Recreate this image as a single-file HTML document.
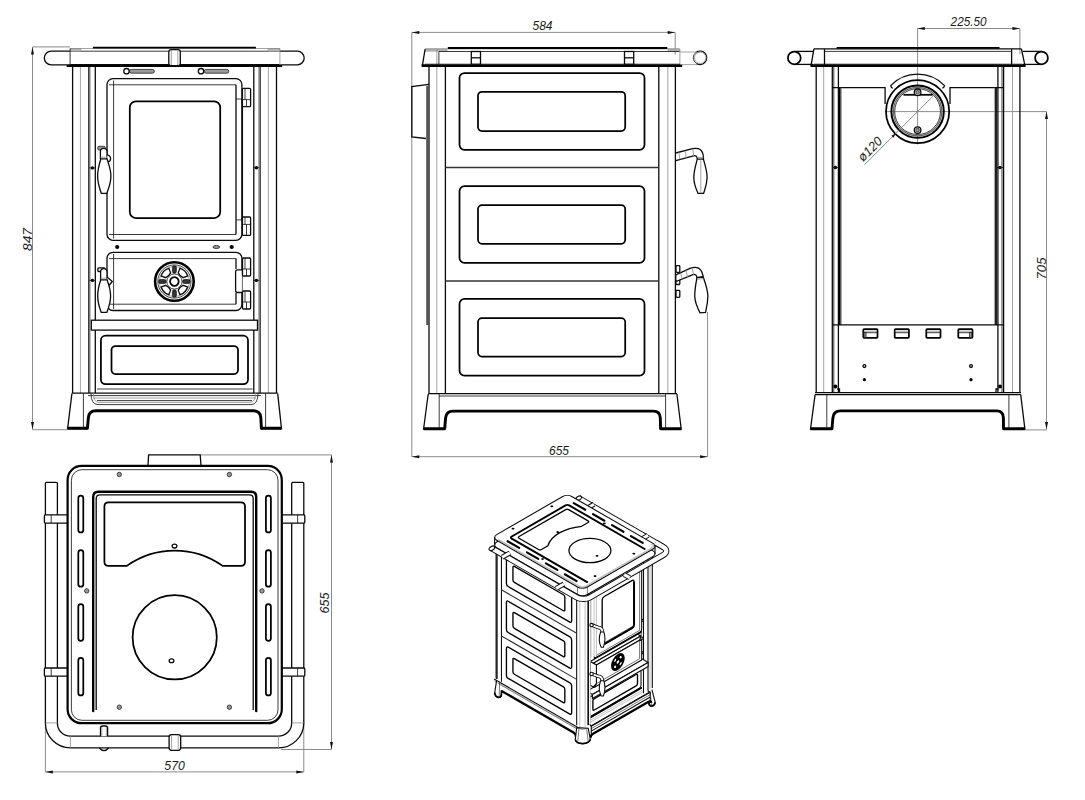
<!DOCTYPE html>
<html><head><meta charset="utf-8"><title>Stove drawing</title>
<style>
html,body{margin:0;padding:0;background:#fff}
body{width:1085px;height:800px;overflow:hidden}
svg{display:block}
text{font-family:"Liberation Sans",sans-serif;font-style:italic;fill:#1c1c1c}
.k{stroke:#0a0a0a;stroke-width:1.3;fill:none}
.kw{stroke:#0a0a0a;stroke-width:1.3;fill:#fff}
.t{stroke:#1a1a1a;stroke-width:0.85;fill:none}
.g{stroke:#8c8c8c;stroke-width:0.8;fill:none}
.gf{stroke:#9a9a9a;stroke-width:0.6;fill:#b5b5b5}
.gfk{stroke:#222;stroke-width:0.8;fill:#999}
.f{stroke:none;fill:#000}
.fd{stroke:#000;stroke-width:0.6;fill:#333}
.d{stroke:#6e6e6e;stroke-width:0.8;fill:none}
.ar{fill:#111;stroke:none}
.b15{stroke:#000;stroke-width:1.75;fill:none}
.b15w{stroke:#000;stroke-width:1.75;fill:#fff}
.b2{stroke:#000;stroke-width:2;fill:none}
.b22{stroke:#000;stroke-width:2.9;fill:none;stroke-linejoin:round}
.b22w{stroke:#000;stroke-width:2.2;fill:#fff}
.b25r{stroke:#000;stroke-width:2.4;fill:none;stroke-linecap:round}
.bw{stroke:#000;stroke-width:2.6;fill:#fff}
.dg3{stroke:#555;stroke-width:2.8;fill:none}
.dgl{stroke:#666;stroke-width:1.2;fill:none}
.dv{stroke:#333;stroke-width:1.5;fill:none}
#iso *{vector-effect:non-scaling-stroke}
#iso .k,#iso .kw{stroke-width:1.05}
#iso .t{stroke-width:.6}
#iso .g{stroke-width:.6;stroke:#999}
#iso .b15,#iso .b15w{stroke-width:1.35}
#iso .bw{stroke-width:1.6}
#iso .dv{stroke-width:1.1}
#iso .dg3{stroke-width:1.7;stroke:#222}
.ik{stroke:#0c0c0c;stroke-width:1.1;fill:none}
.ikw{stroke:#0c0c0c;stroke-width:1.1;fill:#fff;stroke-linejoin:round}
.iw{stroke:none;fill:#fff}
.it{stroke:#222;stroke-width:.6;fill:none}
.ig{stroke:#999;stroke-width:.6;fill:none}
.ik13{stroke:#000;stroke-width:1.25;fill:none}
.igf{stroke:#666;stroke-width:.6;fill:#aaa}
.wf{stroke:none;fill:#fff}
.ho{stroke:#0c0c0c;stroke-width:3.6;fill:none;stroke-linecap:butt}
.hi{stroke:#fff;stroke-width:1.9;fill:none;stroke-linecap:butt}
.ib2{stroke:#000;stroke-width:2.3;fill:none;stroke-linejoin:round}
.ihb{stroke:#8a8a8a;stroke-width:1.7;fill:none}
.ib{stroke:#000;stroke-width:1.7;fill:none;stroke-linejoin:round}
.ibr{stroke:#000;stroke-width:1.9;fill:none;stroke-linecap:round}
.isl{stroke:#000;stroke-width:2.1;fill:none;stroke-linecap:round}
.ro{stroke:#0c0c0c;stroke-width:6.2;fill:none}
.ri{stroke:#fff;stroke-width:4.3;fill:none}
.bo{stroke:#0c0c0c;stroke-width:5;fill:none}
.bi{stroke:#fff;stroke-width:3.1;fill:none}
.ko{stroke:#0c0c0c;stroke-width:6;fill:none;stroke-linecap:round}
.ki{stroke:#fff;stroke-width:4.2;fill:none;stroke-linecap:round}
</style></head>
<body><svg width="1085" height="800" viewBox="0 0 1085 800">
<rect width="1085" height="800" fill="#fff"/>
<g id="front">
<line x1="32.5" y1="47.0" x2="32.5" y2="429.5" class="d"/>
<polygon points="32.5,47.0 34.0,54.5 31.0,54.5" class="ar"/>
<polygon points="32.5,429.5 31.0,422.0 34.0,422.0" class="ar"/>
<line x1="32.5" y1="46.9" x2="70.0" y2="46.9" class="d"/>
<line x1="32.5" y1="429.7" x2="68.0" y2="429.7" class="d"/>
<text x="32.0" y="239.5" textLength="23" lengthAdjust="spacingAndGlyphs" font-size="13.5" text-anchor="middle" transform="rotate(-90 32.0 239.5)">847</text>
<path d="M70.1,51.2 L51.1,51.2 A6.8,6.8 0 0 0 51.1,64.8 L70.1,64.8" class="k"/>
<path d="M279.9,51.2 L297.4,51.2 A6.8,6.8 0 0 1 297.4,64.8 L279.9,64.8" class="k"/>
<line x1="70.1" y1="51.2" x2="279.9" y2="51.2" class="t"/>
<line x1="70.1" y1="64.6" x2="279.9" y2="64.6" class="k"/>
<rect x="70.3" y="48.5" width="10.7" height="2.7" rx="0" class="gf"/>
<rect x="268.0" y="48.5" width="11.7" height="2.7" rx="0" class="gf"/>
<line x1="70.1" y1="48.5" x2="279.9" y2="48.5" class="g"/>
<line x1="92.9" y1="47.6" x2="255.9" y2="47.6" class="b15"/>
<line x1="70.1" y1="48.5" x2="70.1" y2="65.0" class="t"/>
<line x1="279.9" y1="48.5" x2="279.9" y2="65.0" class="g"/>
<line x1="66.7" y1="66.1" x2="282.2" y2="66.1" class="b2"/>
<rect x="168.8" y="49.6" width="11.5" height="16.1" rx="2.5" class="kw"/>
<line x1="171.3" y1="50.5" x2="171.3" y2="65.0" class="g"/>
<line x1="177.8" y1="50.5" x2="177.8" y2="65.0" class="g"/>
<line x1="72.6" y1="67.0" x2="72.6" y2="393.0" class="k"/>
<line x1="80.4" y1="67.0" x2="80.4" y2="393.0" class="g"/>
<line x1="88.5" y1="67.0" x2="88.5" y2="393.0" class="t"/>
<line x1="89.8" y1="67.0" x2="89.8" y2="393.0" class="t"/>
<line x1="95.3" y1="67.0" x2="95.3" y2="393.0" class="k"/>
<line x1="253.8" y1="67.0" x2="253.8" y2="393.0" class="k"/>
<line x1="259.1" y1="67.0" x2="259.1" y2="393.0" class="t"/>
<line x1="260.4" y1="67.0" x2="260.4" y2="393.0" class="t"/>
<line x1="268.4" y1="67.0" x2="268.4" y2="393.0" class="g"/>
<line x1="276.5" y1="67.0" x2="276.5" y2="393.0" class="k"/>
<rect x="129.5" y="69.4" width="24.8" height="3.8" rx="1.9" class="gfk"/>
<circle cx="126.5" cy="71.2" r="2.7" class="kw"/>
<rect x="204.0" y="69.4" width="24.8" height="3.8" rx="1.9" class="gfk"/>
<circle cx="201.0" cy="71.2" r="2.7" class="kw"/>
<rect x="107.0" y="78.6" width="134.9" height="161.7" rx="6" class="k"/>
<line x1="109.0" y1="84.8" x2="236.0" y2="84.8" class="t"/>
<line x1="113.6" y1="80.5" x2="113.6" y2="238.5" class="t"/>
<line x1="109.0" y1="234.5" x2="236.0" y2="234.5" class="t"/>
<line x1="236.0" y1="84.8" x2="236.0" y2="234.5" class="k"/>
<line x1="242.4" y1="99.0" x2="242.4" y2="219.9" class="k"/>
<line x1="236.0" y1="99.0" x2="242.4" y2="99.0" class="t"/>
<line x1="236.0" y1="219.9" x2="242.4" y2="219.9" class="t"/>
<rect x="242.4" y="88.3" width="8.2" height="18.4" rx="1" class="kw"/>
<rect x="242.4" y="217.0" width="8.2" height="18.4" rx="1" class="kw"/>
<line x1="242.4" y1="99.6" x2="250.6" y2="99.6" class="t"/>
<line x1="246.5" y1="99.6" x2="246.5" y2="106.7" class="t"/>
<line x1="245.0" y1="88.3" x2="245.0" y2="99.6" class="t"/>
<line x1="242.4" y1="224.4" x2="250.6" y2="224.4" class="t"/>
<line x1="246.5" y1="224.4" x2="246.5" y2="235.4" class="t"/>
<line x1="245.0" y1="217.0" x2="245.0" y2="224.4" class="t"/>
<rect x="129.8" y="101.3" width="90.4" height="116.7" rx="6" class="b15"/>
<g transform="translate(0 0.0)">
<rect x="97.8" y="146.3" width="7.4" height="3.7" rx="1" class="gfk"/>
<path d="M100.4,159 L100.4,151.5 Q100.4,148.4 103.7,148.4 Q107,148.4 107,151.5 L107,159" class="kw"/>
<path d="M107,154.8 Q110.6,155.5 110.6,158.5 Q110.6,161.5 107.6,162" class="kw"/>
<path d="M100.9,158.8 C99,165 97.6,170 97.6,176 C97.6,183 99.6,188 101.2,193.3 L106.8,193.3 C108.9,188 110.9,183 110.9,176 C110.9,170 109,165 107,158.8 Z" class="kw"/>
<line x1="100.6" y1="157.2" x2="107.0" y2="157.2" class="g"/>
</g>
<circle cx="92.4" cy="167.9" r="1.7" class="f"/>
<line x1="89.4" y1="167.9" x2="95.4" y2="167.9" class="t"/>
<circle cx="256.4" cy="167.7" r="1.7" class="f"/>
<line x1="253.4" y1="167.7" x2="259.4" y2="167.7" class="t"/>
<circle cx="92.4" cy="280.4" r="1.7" class="f"/>
<line x1="89.4" y1="280.4" x2="95.4" y2="280.4" class="t"/>
<circle cx="256.4" cy="280.4" r="1.7" class="f"/>
<line x1="253.4" y1="280.4" x2="259.4" y2="280.4" class="t"/>
<circle cx="117.2" cy="247.0" r="2.1" class="f"/>
<circle cx="231.7" cy="247.0" r="2.1" class="f"/>
<ellipse cx="216.3" cy="247.0" rx="3.4" ry="1.5" class="gfk"/>
<rect x="107.0" y="252.3" width="134.9" height="58.2" rx="6" class="k"/>
<line x1="109.0" y1="258.6" x2="236.0" y2="258.6" class="t"/>
<line x1="113.6" y1="254.0" x2="113.6" y2="309.0" class="t"/>
<line x1="109.0" y1="304.2" x2="236.0" y2="304.2" class="t"/>
<path d="M241.9,269.8 L237.6,269.8 Q235.6,269.8 235.6,271.8 L235.6,290.5 Q235.6,292.5 237.6,292.5 L241.9,292.5" class="kw"/>
<line x1="236.0" y1="258.6" x2="236.0" y2="269.0" class="k"/>
<line x1="236.0" y1="293.0" x2="236.0" y2="304.2" class="k"/>
<rect x="242.5" y="258.0" width="8.1" height="18.0" rx="1" class="kw"/>
<line x1="242.5" y1="269.0" x2="250.6" y2="269.0" class="t"/>
<line x1="246.5" y1="269.0" x2="246.5" y2="276.0" class="t"/>
<line x1="245.0" y1="258.0" x2="245.0" y2="269.0" class="t"/>
<rect x="242.5" y="291.0" width="8.1" height="18.0" rx="1" class="kw"/>
<line x1="242.5" y1="302.0" x2="250.6" y2="302.0" class="t"/>
<line x1="246.5" y1="302.0" x2="246.5" y2="309.0" class="t"/>
<line x1="245.0" y1="291.0" x2="245.0" y2="302.0" class="t"/>
<g transform="translate(0 0.0)">
<rect x="97.8" y="267.9" width="7.2" height="3.6" rx="1" class="kw"/>
<path d="M100.6,280 L100.6,272 Q100.6,268.6 103.8,268.6 Q107,268.6 107,272 L107,280" class="kw"/>
<path d="M107,277 L112.3,281.5 L108.5,286" class="kw"/>
<path d="M100.8,279.8 C99,285 97.7,290 97.7,296 C97.7,303 99.6,308 101.2,312.4 L106.8,312.4 C108.5,308 110.6,303 110.6,296 C110.6,290 109,285 107,279.8 Z" class="kw"/>
<line x1="100.6" y1="278.2" x2="107.0" y2="278.2" class="g"/>
</g>
<g transform="translate(174.4 281.5) scale(1.0)">
<circle cx="0.0" cy="0.0" r="19.3" class="bw"/>
<circle cx="0.0" cy="0.0" r="16.6" class="t"/>
<circle cx="0.0" cy="0.0" r="15.2" class="g"/>
<rect x="-2" y="-15.8" width="4" height="7.6" rx="1.8" class="fd" transform="rotate(0)"/>
<rect x="-2" y="-15.8" width="4" height="7.6" rx="1.8" class="fd" transform="rotate(90)"/>
<rect x="-2" y="-15.8" width="4" height="7.6" rx="1.8" class="fd" transform="rotate(180)"/>
<rect x="-2" y="-15.8" width="4" height="7.6" rx="1.8" class="fd" transform="rotate(270)"/>
<path d="M-3.4,-8.8 Q0,-7.6 3.4,-8.8 L5.4,-13.2 Q0,-16.2 -5.4,-13.2 Z" class="kw" transform="rotate(45)"/>
<path d="M-3.4,-8.8 Q0,-7.6 3.4,-8.8 L5.4,-13.2 Q0,-16.2 -5.4,-13.2 Z" class="kw" transform="rotate(135)"/>
<path d="M-3.4,-8.8 Q0,-7.6 3.4,-8.8 L5.4,-13.2 Q0,-16.2 -5.4,-13.2 Z" class="kw" transform="rotate(225)"/>
<path d="M-3.4,-8.8 Q0,-7.6 3.4,-8.8 L5.4,-13.2 Q0,-16.2 -5.4,-13.2 Z" class="kw" transform="rotate(315)"/>
<circle cx="0.0" cy="0.0" r="7.6" class="t"/>
<circle cx="0.0" cy="0.0" r="4.3" class="b15w"/>
</g>
<rect x="91.3" y="320.2" width="166.2" height="9.9" rx="0" class="kw"/>
<rect x="100.9" y="335.7" width="147.1" height="48.5" rx="4.7" class="b15"/>
<rect x="111.5" y="346.0" width="126.5" height="28.0" rx="4" class="b15"/>
<line x1="97.0" y1="389.0" x2="252.5" y2="389.0" class="t"/>
<line x1="71.8" y1="393.2" x2="277.8" y2="393.2" class="k"/>
<line x1="88.0" y1="395.6" x2="261.0" y2="395.6" class="t"/>
<path d="M91,393.2 Q91,404.6 98,404.6 L251,404.6 Q258,404.6 258,393.2" class="t"/>
<path d="M93.5,393.2 Q93.5,402.4 99,402.4 L250,402.4 Q255.5,402.4 255.5,393.2" class="g"/>
<line x1="97.0" y1="400.6" x2="252.0" y2="400.6" class="t"/>
<line x1="93.0" y1="398.0" x2="256.0" y2="398.0" class="g"/>
<path d="M71.9,393.6 L67.6,428.6 L87.4,428.6 L88.4,417.5 Q89,410.9 96,410.9 L253.2,410.9 Q260.2,410.9 260.8,417.5 L261.4,428.6 L281.5,428.6 L277.7,393.6" class="k"/>
<path d="M67.6,428.3 L87.4,428.3 L88.4,417.5 Q89,410.7 96,410.7 L253.2,410.7 Q260.2,410.7 260.8,417.5 L261.4,428.3 L281.5,428.3" class="b22"/>
<line x1="83.4" y1="393.6" x2="83.4" y2="427.5" class="t"/>
<line x1="265.6" y1="393.6" x2="265.6" y2="427.5" class="t"/>
</g>
<g id="side">
<line x1="411.8" y1="32.4" x2="675.2" y2="32.4" class="d"/>
<polygon points="411.8,32.4 419.3,30.9 419.3,33.9" class="ar"/>
<polygon points="675.2,32.4 667.7,33.9 667.7,30.9" class="ar"/>
<line x1="411.8" y1="32.4" x2="411.8" y2="456.7" class="d"/>
<line x1="675.2" y1="32.4" x2="675.2" y2="54.7" class="d"/>
<text x="542.5" y="30.3" textLength="20" lengthAdjust="spacingAndGlyphs" font-size="13.5" text-anchor="middle">584</text>
<line x1="411.8" y1="456.7" x2="707.6" y2="456.7" class="d"/>
<polygon points="411.8,456.7 419.3,455.2 419.3,458.2" class="ar"/>
<polygon points="707.6,456.7 700.1,458.2 700.1,455.2" class="ar"/>
<line x1="707.6" y1="312.0" x2="707.6" y2="456.7" class="d"/>
<text x="559.0" y="454.6" textLength="20" lengthAdjust="spacingAndGlyphs" font-size="13.5" text-anchor="middle">655</text>
<rect x="425.3" y="48.9" width="21.7" height="2.3" rx="0" class="gf"/>
<rect x="668.0" y="48.9" width="11.5" height="2.3" rx="0" class="gf"/>
<line x1="425.1" y1="48.9" x2="679.6" y2="48.9" class="g"/>
<line x1="447.8" y1="48.0" x2="667.3" y2="48.0" class="b2"/>
<line x1="438.9" y1="51.5" x2="679.9" y2="51.5" class="t"/>
<line x1="425.1" y1="49.2" x2="422.4" y2="65.6" class="k"/>
<line x1="436.8" y1="49.2" x2="436.8" y2="64.5" class="g"/>
<line x1="438.9" y1="51.5" x2="438.9" y2="64.5" class="t"/>
<line x1="679.9" y1="49.2" x2="679.9" y2="65.0" class="g"/>
<line x1="421.6" y1="65.6" x2="682.2" y2="65.6" class="b22"/>
<line x1="425.0" y1="64.2" x2="680.0" y2="64.2" class="t"/>
<rect x="471.3" y="51.5" width="9.2" height="12.7" rx="0" class="kw"/>
<line x1="471.3" y1="57.8" x2="480.5" y2="57.8" class="k"/>
<rect x="624.5" y="51.5" width="9.2" height="12.7" rx="0" class="kw"/>
<line x1="624.5" y1="57.8" x2="633.7" y2="57.8" class="k"/>
<line x1="680.0" y1="52.0" x2="700.0" y2="52.0" class="g"/>
<line x1="680.0" y1="64.6" x2="700.0" y2="64.6" class="g"/>
<path d="M696.5,52.1 A6.7,6.7 0 1 1 696.5,63.5" class="k"/>
<circle cx="700.2" cy="57.8" r="5.7" class="g"/>
<path d="M696.5,52.1 A6.7,6.7 0 0 0 696.5,63.5" class="t"/>
<line x1="429.0" y1="67.0" x2="429.0" y2="393.3" class="k"/>
<line x1="436.8" y1="67.0" x2="436.8" y2="393.3" class="g"/>
<line x1="445.4" y1="67.0" x2="445.4" y2="393.3" class="k"/>
<line x1="658.8" y1="67.0" x2="658.8" y2="393.3" class="k"/>
<line x1="667.8" y1="67.0" x2="667.8" y2="393.3" class="g"/>
<line x1="675.4" y1="67.0" x2="675.4" y2="393.3" class="k"/>
<rect x="459.5" y="73.0" width="185.0" height="76.8" rx="5" class="b15"/>
<rect x="478.0" y="91.8" width="147.2" height="39.2" rx="4" class="b15"/>
<rect x="459.5" y="186.1" width="185.0" height="76.8" rx="5" class="b15"/>
<rect x="478.0" y="205.1" width="147.2" height="38.7" rx="4" class="b15"/>
<rect x="459.5" y="298.9" width="185.0" height="76.8" rx="5" class="b15"/>
<rect x="478.0" y="318.1" width="147.2" height="38.5" rx="4" class="b15"/>
<line x1="445.4" y1="167.5" x2="658.8" y2="167.5" class="dv"/>
<line x1="445.4" y1="280.9" x2="658.8" y2="280.9" class="dv"/>
<path d="M429,84.4 L411.8,86.5 L411.8,136.9 L425.9,138.5" class="k"/>
<line x1="427.6" y1="86.0" x2="427.6" y2="325.1" class="dg3"/>
<path d="M675.8,153 L692.5,148.7 Q702.8,146.5 703.4,157 L703.4,159.2 M675.8,160.6 L693.5,155.8 Q697.3,155 697.3,159.2" class="k"/>
<line x1="678.9" y1="152.3" x2="679.9" y2="159.6" class="g"/>
<line x1="685.2" y1="150.6" x2="686.2" y2="158.0" class="g"/>
<line x1="692.8" y1="148.7" x2="693.8" y2="156.0" class="g"/>
<path d="M697.3,159.2 L703.4,159.2 C706,168 707.3,172 707.1,178 C706.8,185 705,189 703.6,193.3 L698,193.3 C696,189 694,184 693.8,178 C693.8,171 695.5,166 697.3,159.2 Z" class="k"/>
<line x1="700.8" y1="159.5" x2="700.8" y2="193.0" class="g"/>
<line x1="697.3" y1="157.5" x2="703.4" y2="157.5" class="g"/>
<rect x="676.0" y="265.7" width="3.8" height="6.6" rx="0.8" class="k"/>
<rect x="676.0" y="290.3" width="3.8" height="7.1" rx="0.8" class="k"/>
<rect x="676.0" y="278.0" width="3.8" height="6.5" rx="0.8" class="k"/>
<path d="M675.8,274.8 L690,268.4 Q700.5,264.5 702.8,275 L703.2,277 L697,277.6 Q696.5,273.8 693,274.6 L675.8,281.5 Z" class="kw"/>
<line x1="680.6" y1="272.8" x2="682.2" y2="279.5" class="g"/>
<line x1="686.0" y1="270.2" x2="687.6" y2="277.3" class="g"/>
<line x1="692.0" y1="267.6" x2="693.6" y2="274.8" class="g"/>
<path d="M697,277.6 L703.2,277 C706,285 707.8,290 707.9,296 C707.8,303 706.5,308 705.5,312.5 L700,312.8 C697.5,308 695.2,303 694.8,297 C694.5,290 695.6,285 697,277.6 Z" class="kw"/>
<line x1="697.0" y1="279.2" x2="703.6" y2="278.6" class="g"/>
<line x1="428.2" y1="393.6" x2="677.0" y2="393.6" class="k"/>
<line x1="439.0" y1="396.0" x2="666.0" y2="396.0" class="t"/>
<path d="M428.2,394 L423.6,429 L444.7,429 L445.6,418 Q446.2,411.3 453,411.3 L653.4,411.3 Q660,411.3 660.3,418 L660.6,429 L681.2,429 L676.9,394" class="k"/>
<path d="M423.6,428.7 L444.7,428.7 L445.6,418 Q446.2,411.1 453,411.1 L653.4,411.1 Q660,411.1 660.3,418 L660.6,428.7 L681.2,428.7" class="b22"/>
<line x1="439.2" y1="394.0" x2="439.2" y2="428.0" class="t"/>
<line x1="665.6" y1="394.0" x2="665.6" y2="428.0" class="t"/>
</g>
<g id="rear">
<line x1="917.3" y1="28.5" x2="1019.9" y2="28.5" class="d"/>
<polygon points="917.3,28.5 924.8,27.0 924.8,30.0" class="ar"/>
<polygon points="1019.9,28.5 1012.4,30.0 1012.4,27.0" class="ar"/>
<line x1="1019.9" y1="28.5" x2="1019.9" y2="54.0" class="d"/>
<line x1="917.6" y1="28.5" x2="917.6" y2="144.5" class="d"/>
<text x="968.6" y="26.0" textLength="36" lengthAdjust="spacingAndGlyphs" font-size="13.5" text-anchor="middle">225.50</text>
<line x1="1046.5" y1="111.6" x2="1046.5" y2="429.4" class="d"/>
<polygon points="1046.5,111.6 1048.0,119.1 1045.0,119.1" class="ar"/>
<polygon points="1046.5,429.4 1045.0,421.9 1048.0,421.9" class="ar"/>
<line x1="885.0" y1="111.6" x2="1046.5" y2="111.6" class="d"/>
<line x1="1025.0" y1="429.9" x2="1046.5" y2="429.9" class="d"/>
<text x="1045.5" y="268.5" textLength="22" lengthAdjust="spacingAndGlyphs" font-size="13.5" text-anchor="middle" transform="rotate(-90 1045.5 268.5)">705</text>
<line x1="794.3" y1="51.4" x2="813.0" y2="51.4" class="k"/>
<line x1="794.3" y1="64.4" x2="813.0" y2="64.4" class="k"/>
<circle cx="794.3" cy="57.9" r="6.4" class="b15w"/>
<line x1="1041.5" y1="51.4" x2="1022.5" y2="51.4" class="k"/>
<line x1="1041.5" y1="64.4" x2="1022.5" y2="64.4" class="k"/>
<circle cx="1041.5" cy="57.9" r="6.4" class="b15w"/>
<path d="M813.9,48.9 L811,65.8" class="k"/>
<path d="M1021.4,48.9 L1025,65.8" class="k"/>
<line x1="813.9" y1="48.9" x2="1021.4" y2="48.9" class="k"/>
<line x1="836.6" y1="47.8" x2="999.5" y2="47.8" class="b15"/>
<line x1="824.5" y1="51.4" x2="1011.6" y2="51.4" class="t"/>
<line x1="824.5" y1="48.9" x2="824.5" y2="65.0" class="k"/>
<line x1="1011.6" y1="48.9" x2="1011.6" y2="65.0" class="k"/>
<line x1="810.5" y1="65.6" x2="1025.5" y2="65.6" class="b22"/>
<line x1="814.0" y1="64.2" x2="1022.0" y2="64.2" class="t"/>
<line x1="816.2" y1="67.0" x2="816.2" y2="393.0" class="k"/>
<line x1="823.7" y1="67.0" x2="823.7" y2="393.0" class="g"/>
<line x1="832.3" y1="67.0" x2="832.3" y2="393.0" class="k"/>
<line x1="833.8" y1="67.0" x2="833.8" y2="393.0" class="t"/>
<line x1="838.4" y1="67.0" x2="838.4" y2="393.0" class="k"/>
<line x1="997.9" y1="67.0" x2="997.9" y2="393.0" class="k"/>
<line x1="1002.0" y1="67.0" x2="1002.0" y2="393.0" class="t"/>
<line x1="1003.6" y1="67.0" x2="1003.6" y2="393.0" class="k"/>
<line x1="1012.5" y1="67.0" x2="1012.5" y2="393.0" class="g"/>
<line x1="1019.9" y1="67.0" x2="1019.9" y2="393.0" class="k"/>
<path d="M832.5,87.6 L885.1,87.6 L885.1,104" class="k"/>
<path d="M1003,87.6 L950,87.6 L950,104" class="k"/>
<line x1="839.8" y1="87.6" x2="839.8" y2="324.9" class="b15"/>
<line x1="841.4" y1="87.6" x2="841.4" y2="324.9" class="g"/>
<line x1="996.0" y1="87.6" x2="996.0" y2="324.9" class="b15"/>
<line x1="994.4" y1="87.6" x2="994.4" y2="324.9" class="g"/>
<line x1="832.5" y1="324.9" x2="1003.0" y2="324.9" class="k"/>
<circle cx="917.6" cy="111.6" r="31.6" class="b15"/>
<path d="M892.9,88.2 Q891.2,88.1 890.7,85.6 A37.4,37.4 0 0 1 944.5,85.6 Q944.0,88.1 942.3,88.2" class="k"/>
<circle cx="917.6" cy="111.6" r="26.2" class="b2"/>
<circle cx="917.6" cy="111.6" r="24.2" class="dgl"/>
<circle cx="917.6" cy="111.6" r="22.9" class="t"/>
<line x1="903.5" y1="94.8" x2="932.6" y2="94.8" class="b15"/>
<circle cx="917.6" cy="92.3" r="3.3" class="kw"/>
<circle cx="917.6" cy="92.3" r="1.8" class="gfk"/>
<circle cx="917.6" cy="130.1" r="3.3" class="kw"/>
<circle cx="917.6" cy="130.1" r="1.8" class="gfk"/>
<line x1="933.9" y1="95.3" x2="864.4" y2="164.8" class="d"/>
<polygon points="895.6,133.6 893.5,137.8 891.4,135.7" class="ar"/>
<text x="873.2" y="152.2" textLength="28.5" lengthAdjust="spacingAndGlyphs" font-size="13" text-anchor="middle" transform="rotate(-45 873.2 152.2)">&#248;120</text>
<circle cx="835.4" cy="167.5" r="1.8" class="f"/>
<line x1="832.4" y1="167.5" x2="838.4" y2="167.5" class="t"/>
<circle cx="1000.0" cy="167.5" r="1.8" class="f"/>
<line x1="997.0" y1="167.5" x2="1003.0" y2="167.5" class="t"/>
<circle cx="835.4" cy="386.5" r="2" class="f"/>
<circle cx="1000.0" cy="386.5" r="2" class="f"/>
<path d="M837,389 L839.5,389 L839.5,392.5" class="k"/>
<path d="M998.5,389 L996,389 L996,392.5" class="k"/>
<rect x="863.3" y="329.2" width="14.2" height="8.6" rx="0.8" class="b15"/>
<line x1="863.3" y1="332.7" x2="877.5" y2="332.7" class="t"/>
<line x1="863.8" y1="331.2" x2="877.0" y2="331.2" class="g"/>
<rect x="894.7" y="329.2" width="14.2" height="8.6" rx="0.8" class="b15"/>
<line x1="894.7" y1="332.7" x2="908.9" y2="332.7" class="t"/>
<line x1="895.2" y1="331.2" x2="908.4" y2="331.2" class="g"/>
<rect x="926.3" y="329.2" width="14.2" height="8.6" rx="0.8" class="b15"/>
<line x1="926.3" y1="332.7" x2="940.5" y2="332.7" class="t"/>
<line x1="926.8" y1="331.2" x2="940.0" y2="331.2" class="g"/>
<rect x="958.3" y="329.2" width="14.2" height="8.6" rx="0.8" class="b15"/>
<line x1="958.3" y1="332.7" x2="972.5" y2="332.7" class="t"/>
<line x1="958.8" y1="331.2" x2="972.0" y2="331.2" class="g"/>
<rect x="864.0" y="332.5" width="2.0" height="5.0" rx="0" class="gfk"/>
<rect x="969.6" y="332.5" width="2.2" height="5.0" rx="0" class="gfk"/>
<circle cx="864.4" cy="366.1" r="1.4" class="k"/>
<circle cx="864.4" cy="379.7" r="1.6" class="f"/>
<circle cx="971.0" cy="366.1" r="1.4" class="k"/>
<circle cx="971.0" cy="379.7" r="1.6" class="f"/>
<line x1="815.0" y1="392.6" x2="1021.0" y2="392.6" class="k"/>
<line x1="815.0" y1="394.6" x2="1021.0" y2="394.6" class="k"/>
<path d="M815.1,394.6 L810.5,429 L832,429 L832.9,418 Q833.5,411.1 840.5,411.1 L996.8,411.1 Q1003.3,411.1 1003.4,418 L1003.5,429 L1024.9,429 L1020.7,394.6" class="k"/>
<path d="M810.5,428.7 L832,428.7 L832.9,418 Q833.5,410.9 840.5,410.9 L996.8,410.9 Q1003.3,410.9 1003.4,418 L1003.5,428.7 L1024.9,428.7" class="b22"/>
<line x1="826.8" y1="394.6" x2="826.8" y2="428.0" class="t"/>
<line x1="1008.9" y1="394.6" x2="1008.9" y2="428.0" class="t"/>
</g>
<g id="top">
<line x1="331.5" y1="454.9" x2="331.5" y2="749.5" class="d"/>
<polygon points="331.5,454.9 333.0,462.4 330.0,462.4" class="ar"/>
<polygon points="331.5,749.5 330.0,742.0 333.0,742.0" class="ar"/>
<line x1="200.4" y1="454.9" x2="331.5" y2="454.9" class="d"/>
<line x1="281.0" y1="749.5" x2="331.5" y2="749.5" class="d"/>
<text x="329.3" y="603.0" textLength="21" lengthAdjust="spacingAndGlyphs" font-size="13.5" text-anchor="middle" transform="rotate(-90 329.3 603.0)">655</text>
<line x1="45.4" y1="771.9" x2="303.8" y2="771.9" class="d"/>
<polygon points="45.4,771.9 52.9,770.4 52.9,773.4" class="ar"/>
<polygon points="303.8,771.9 296.3,773.4 296.3,770.4" class="ar"/>
<line x1="45.4" y1="722.0" x2="45.4" y2="771.9" class="d"/>
<line x1="303.8" y1="722.0" x2="303.8" y2="771.9" class="d"/>
<text x="174.6" y="770.0" textLength="20.5" lengthAdjust="spacingAndGlyphs" font-size="13.5" text-anchor="middle">570</text>
<path d="M148,465.2 L148.6,454.9 L200.2,454.9 L201,465.2" class="k"/>
<path d="M45.4,483.3 Q45.4,482.3 46.4,482.3 L56.4,482.3 Q57.4,482.3 57.4,483.3 L57.4,722.9 A13,13 0 0 0 70.4,736.2 L278.4,736.2 A13.3,13.3 0 0 0 291.7,722.9 L291.7,483.3 Q291.7,482.3 292.7,482.3 L302.8,482.3 Q303.8,482.3 303.8,483.3 L303.8,722.9 A25.2,25.2 0 0 1 278.4,747.9 L70.4,747.9 A25,25 0 0 1 45.4,722.9 Z" class="k"/>
<line x1="45.4" y1="722.9" x2="57.4" y2="722.9" class="g"/>
<line x1="291.7" y1="722.9" x2="303.8" y2="722.9" class="g"/>
<line x1="70.4" y1="736.2" x2="70.4" y2="747.9" class="g"/>
<line x1="278.4" y1="736.2" x2="278.4" y2="747.9" class="g"/>
<rect x="44.4" y="514.9" width="24.6" height="8.2" rx="1" class="kw"/>
<line x1="51.2" y1="514.9" x2="51.2" y2="523.1" class="t"/>
<rect x="280.4" y="514.9" width="24.4" height="8.2" rx="1" class="kw"/>
<line x1="297.6" y1="514.9" x2="297.6" y2="523.1" class="t"/>
<rect x="44.4" y="668.0" width="24.6" height="8.2" rx="1" class="kw"/>
<line x1="51.2" y1="668.0" x2="51.2" y2="676.2" class="t"/>
<rect x="280.4" y="668.0" width="24.4" height="8.2" rx="1" class="kw"/>
<line x1="297.6" y1="668.0" x2="297.6" y2="676.2" class="t"/>
<rect x="67.6" y="465.9" width="214.2" height="257.3" rx="14" class="b22w"/>
<rect x="71.4" y="469.7" width="206.6" height="250.6" rx="10.5" class="t"/>
<circle cx="119.3" cy="474.5" r="2.2" class="gfk"/>
<circle cx="229.4" cy="474.5" r="2.2" class="gfk"/>
<circle cx="119.3" cy="707.2" r="2.2" class="gfk"/>
<circle cx="229.4" cy="707.2" r="2.2" class="gfk"/>
<circle cx="86.7" cy="590.9" r="2.2" class="gfk"/>
<circle cx="262.0" cy="590.9" r="2.2" class="gfk"/>
<rect x="78.3" y="495.6" width="5.0" height="36.8" rx="2.5" class="b15"/>
<rect x="265.9" y="495.6" width="5.0" height="36.8" rx="2.5" class="b15"/>
<rect x="78.3" y="550.2" width="5.0" height="36.5" rx="2.5" class="b15"/>
<rect x="265.9" y="550.2" width="5.0" height="36.5" rx="2.5" class="b15"/>
<rect x="78.3" y="604.2" width="5.0" height="36.6" rx="2.5" class="b15"/>
<rect x="265.9" y="604.2" width="5.0" height="36.6" rx="2.5" class="b15"/>
<rect x="78.3" y="657.8" width="5.0" height="37.6" rx="2.5" class="b15"/>
<rect x="265.9" y="657.8" width="5.0" height="37.6" rx="2.5" class="b15"/>
<path d="M93.2,711 L93.2,497 Q93.2,491.8 98.4,491.8 L251,491.8 Q256.2,491.8 256.2,497 L256.2,711" class="b25r"/>
<path d="M96.2,710 L96.2,498.5 Q96.2,494.8 100,494.8 L249.4,494.8 Q253.2,494.8 253.2,498.5 L253.2,710" class="k"/>
<path d="M104.4,506.6 Q104.4,502.4 108.6,502.4 L240.8,502.4 Q245,502.4 245,506.6 L245,561.7 Q245,565.9 240.8,565.9 L222.6,565.9 A82.8,82.8 0 0 0 126.8,565.9 L108.6,565.9 Q104.4,565.9 104.4,561.7 Z" class="b15"/>
<ellipse cx="174.5" cy="546.1" rx="2.4" ry="1.9" class="kw"/>
<ellipse cx="171.5" cy="660.7" rx="2.4" ry="1.9" class="kw"/>
<circle cx="174.7" cy="637.3" r="42.1" class="b15"/>
<path d="M100.5,736.2 L100.5,728 Q100.5,726 102.5,726 L105.6,726 Q107.6,726 107.6,728 L107.6,736.2" class="kw"/>
<line x1="101.8" y1="727.0" x2="101.8" y2="736.0" class="g"/>
<line x1="106.3" y1="727.0" x2="106.3" y2="736.0" class="g"/>
<path d="M99.3,748 Q104,753.2 108.7,748" class="k"/>
<rect x="169.1" y="734.6" width="11.6" height="15.7" rx="2.5" class="kw"/>
<line x1="171.6" y1="735.5" x2="171.6" y2="749.5" class="g"/>
<line x1="178.2" y1="735.5" x2="178.2" y2="749.5" class="g"/>
</g>
<g id="iso">
<g transform="matrix(0.3525 -0.2035 0.3525 0.2035 303.70 460.63)">
<path d="M297.8,482.3 L297.8,722.9" class="ro"/>
<path d="M297.8,482.3 L297.8,722.9" class="ri"/>
<path d="M280,519.0 L304.5,519.0" class="bo"/>
<path d="M280,519.0 L304.5,519.0" class="bi"/>
<path d="M280,672.1 L304.5,672.1" class="bo"/>
<path d="M280,672.1 L304.5,672.1" class="bi"/>
</g>
<ellipse cx="578.7" cy="498.2" rx="3.1" ry="1.9" class="ikw" transform="rotate(-30 578.7 498.2)"/>
<g transform="matrix(0.3525 0.2035 0 0.407 343.18 431.74)">
<path d="M428.2,394 L427,412 L446,418 Q446.2,411.3 453,411.3 L653.4,411.3 Q660,411.3 660.3,418 L672,418 L676.9,394 Z" class="iw"/>
<path d="M445.6,419 Q446.2,412.1 453,412.1 L653.4,412.1 Q660,412.1 660.3,419" class="ib2"/>
<line x1="428.0" y1="393.6" x2="677.0" y2="393.6" class="ik"/>
<line x1="428.0" y1="396.3" x2="677.0" y2="396.3" class="ig"/>
<line x1="430.0" y1="398.6" x2="677.0" y2="398.6" class="it"/>
</g>
<path d="M496.6,680.6 L494.7,692.6 Q495,696.6 498.3,697.4 Q501.2,697.6 501.4,694.6 L501.5,690.6" class="ikw"/>
<path d="M494.7,692.6 Q495,696.6 498.3,697.4 Q501.2,697.6 501.4,694.6 L501.6,690.4" class="ib"/>
<line x1="499.6" y1="682.2" x2="499.2" y2="696.8" class="it"/>
<path d="M651.9,689.6 L655.2,702.3 Q654.6,705.6 651.8,706 Q649.3,706 649,703.6 L648.4,700.2 L648.2,690" class="ikw"/>
<path d="M655.2,702.3 Q654.6,705.6 651.8,706 Q649.3,706 649,703.6 L648.4,700.2" class="ib"/>
<line x1="650.2" y1="692.0" x2="651.5" y2="705.5" class="it"/>
<g transform="matrix(0.3525 0.2035 0 0.407 344.45 431.00)">
<rect x="429.0" y="60.0" width="246.4" height="333.3" rx="0" class="iw"/>
<line x1="429.0" y1="67.0" x2="429.0" y2="393.3" class="t"/>
<line x1="445.4" y1="67.0" x2="445.4" y2="393.3" class="k"/>
<line x1="658.8" y1="67.0" x2="658.8" y2="393.3" class="k"/>
<line x1="667.8" y1="67.0" x2="667.8" y2="393.3" class="g"/>
<rect x="459.5" y="73.0" width="185.0" height="76.8" rx="5" class="b15"/>
<rect x="478.0" y="91.8" width="147.2" height="39.2" rx="4" class="b15"/>
<rect x="459.5" y="186.1" width="185.0" height="76.8" rx="5" class="b15"/>
<rect x="478.0" y="205.1" width="147.2" height="38.7" rx="4" class="b15"/>
<rect x="459.5" y="298.9" width="185.0" height="76.8" rx="5" class="b15"/>
<rect x="478.0" y="318.1" width="147.2" height="38.5" rx="4" class="b15"/>
<line x1="445.4" y1="167.5" x2="658.8" y2="167.5" class="dv"/>
<line x1="445.4" y1="280.9" x2="658.8" y2="280.9" class="dv"/>
<line x1="432.4" y1="67.0" x2="432.4" y2="393.0" class="dg3"/>
</g>
<path d="M583.6,587.2 L642.0,553.5 L642.0,689.1 L583.6,722.9 Z" class="iw"/>
<g transform="matrix(0.3525 -0.2035 0 0.407 553.60 581.31)">
<rect x="100.9" y="335.7" width="147.1" height="48.5" rx="4.7" class="k"/>
<rect x="111.5" y="346.0" width="126.5" height="28.0" rx="4" class="b15"/>
</g>
<path d="M586.4,719.7 L642.0,687.6 L649.8,692.0 L591.0,726.0 Z" class="ikw"/>
<line x1="586.4" y1="719.7" x2="642.0" y2="687.6" class="ib"/>
<line x1="587.4" y1="721.9" x2="644.4" y2="689.1" class="ig"/>
<line x1="589.2" y1="722.9" x2="646.1" y2="690.1" class="ig"/>
<g transform="matrix(0.3525 -0.2035 0 0.407 559.24 584.56)">
<path d="M91,393.4 L91,415 Q92,414.9 96,414.9 L253.2,414.9 Q258,414.9 258,415 L258,393.4 Z" class="ikw"/>
<path d="M88.4,421 Q89,414.7 96,414.7 L253.2,414.7 Q260.2,414.7 260.8,421" class="ib2"/>
<line x1="92.0" y1="399.5" x2="257.0" y2="399.5" class="it"/>
<line x1="92.0" y1="405.5" x2="257.0" y2="405.5" class="ik"/>
</g>
<path d="M642.0,553.5 L643.5,557.5 L643.5,693.2 L642.0,689.1 Z" class="iw"/>
<path d="M643.5,557.5 L652.3,552.4 L652.3,688.1 L643.5,693.2 Z" class="iw"/>
<line x1="643.5" y1="559.9" x2="643.5" y2="693.2" class="ik"/>
<line x1="648.0" y1="557.4" x2="648.0" y2="690.6" class="ik"/>
<line x1="650.0" y1="556.2" x2="650.0" y2="689.4" class="ig"/>
<line x1="652.3" y1="554.9" x2="652.3" y2="688.1" class="ik"/>
<line x1="641.2" y1="567.4" x2="641.2" y2="653.7" class="ihb"/>
<circle cx="641.9" cy="620.3" r="1.2" class="ikw"/>
<circle cx="641.9" cy="638.2" r="1.2" class="ikw"/>
<circle cx="641.9" cy="652.8" r="1.2" class="ikw"/>
<path d="M586.7,691.3 L642.4,659.1 L648.1,662.4 L592.4,694.5 Z" class="ikw"/>
<path d="M592.4,694.5 L648.1,662.4 L648.1,666.4 L592.4,698.6 Z" class="ikw"/>
<path d="M590.3,590.9 L594.1,593.2 L594.1,659.0 L590.3,656.7 Z" class="iw"/>
<line x1="591.0" y1="591.9" x2="591.0" y2="657.1" class="ig"/>
<line x1="588.1" y1="592.7" x2="588.1" y2="689.6" class="ig"/>
<g transform="matrix(0.3525 -0.2035 0 0.407 556.42 582.94)">
<rect x="107.0" y="78.6" width="134.9" height="161.7" rx="6" class="iw"/>
<path d="M107,84.6 L107,234.3" class="g"/>
<path d="M113.6,80.5 L113.6,238.5" class="g"/>
<path d="M107,234.3 Q107,240.3 113,240.3 L235.9,240.3 Q241.9,240.3 241.9,234.3 L241.9,84.6" class="k"/>
<line x1="113.6" y1="234.5" x2="236.0" y2="234.5" class="t"/>
<line x1="236.0" y1="84.8" x2="236.0" y2="234.5" class="t"/>
<rect x="129.8" y="101.3" width="90.4" height="116.7" rx="6" class="b15"/>
<path d="M220.2,107.3 L220.2,212 Q220.2,218 214.2,218 L135.8,218" class="b2"/>
<line x1="133.0" y1="214.8" x2="217.0" y2="214.8" class="t"/>
</g>
<line x1="594.1" y1="659.0" x2="641.7" y2="631.5" class="ib"/>
<path d="M590.3,661.6 L637.8,634.2 L640.8,635.9 L593.3,663.3 Z" class="ikw"/>
<path d="M593.3,663.3 L640.8,635.9 L639.6,640.2 L596.5,665.1 Z" class="ikw"/>
<path d="M590.3,661.6 L593.3,663.3 L596.5,665.1 L596.5,683.6 L593.3,687.0 L590.3,685.3 Z" class="ikw"/>
<g transform="matrix(0.3525 -0.2035 0 0.407 556.42 582.94)">
<path d="M113.6,258.6 L236,258.6 L241.9,262 L241.9,310.5 L107,310.5 L113.6,304.2 Z" class="ikw"/>
<line x1="113.6" y1="304.2" x2="236.0" y2="304.2" class="t"/>
<line x1="236.0" y1="258.6" x2="236.0" y2="304.2" class="t"/>
<g transform="translate(174.4 281.5)">
<circle cx="0.0" cy="0.0" r="19.5" class="f"/>
<path d="M-2.6,-9 Q0,-8.2 2.6,-9 L3.8,-12.6 Q0,-14.6 -3.8,-12.6 Z" class="wf" transform="rotate(45)"/>
<path d="M-2.6,-9 Q0,-8.2 2.6,-9 L3.8,-12.6 Q0,-14.6 -3.8,-12.6 Z" class="wf" transform="rotate(135)"/>
<path d="M-2.6,-9 Q0,-8.2 2.6,-9 L3.8,-12.6 Q0,-14.6 -3.8,-12.6 Z" class="wf" transform="rotate(225)"/>
<path d="M-2.6,-9 Q0,-8.2 2.6,-9 L3.8,-12.6 Q0,-14.6 -3.8,-12.6 Z" class="wf" transform="rotate(315)"/>
<circle cx="0.0" cy="0.0" r="3.6" class="wf"/>
</g>
</g>
<path d="M582.4,592.8 L590.4,588.2 L590.4,723.8 L582.4,728.4 Z" class="iw"/>
<line x1="585.1" y1="593.6" x2="585.1" y2="726.9" class="ig"/>
<line x1="588.0" y1="592.0" x2="588.0" y2="725.2" class="ik"/>
<line x1="588.4" y1="591.7" x2="588.4" y2="724.9" class="ik"/>
<line x1="590.4" y1="590.6" x2="590.4" y2="723.8" class="ig"/>
<path d="M592.4,625.3 L598.3,627.5 Q602.3,627.9 602.4,632.0" class="ho"/>
<path d="M592.4,625.3 L598.3,627.5 Q602.3,627.9 602.4,632.0" class="hi"/>
<circle cx="591.6" cy="625.1" r="1.7" class="ikw"/>
<path d="M600.6,632.0 L603.8,632.0 C605.6,637.0 605.6,641.0 603.4,647.2 L601.2,647.2 C598.6,642.0 598.8,637.0 600.6,632.0 Z" class="ikw"/>
<path d="M592.4,674.1 L598.3,676.3 Q602.3,676.7 602.4,680.8" class="ho"/>
<path d="M592.4,674.1 L598.3,676.3 Q602.3,676.7 602.4,680.8" class="hi"/>
<circle cx="591.6" cy="673.9" r="1.7" class="ikw"/>
<path d="M600.6,680.8 L603.8,680.8 C605.6,685.8 605.6,689.8 603.4,696.0 L601.2,696.0 C598.6,690.8 598.8,685.8 600.6,680.8 Z" class="ikw"/>
<g transform="matrix(0.3525 -0.2035 0.3525 0.2035 303.70 463.89)">
<path d="M81.6,465.9 L267.8,465.9 A14,14 0 0 1 281.8,479.9 L281.8,709.2 A14,14 0 0 1 267.8,723.2 L81.6,723.2 A14,14 0 0 1 67.6,709.2 L67.6,479.9 A14,14 0 0 1 81.6,465.9 Z" class="ikw"/>
</g>
<g transform="matrix(0.3525 -0.2035 0.3525 0.2035 303.70 456.40)">
<path d="M81.6,465.9 L267.8,465.9 A14,14 0 0 1 281.8,479.9 L281.8,709.2 A14,14 0 0 1 267.8,723.2 L81.6,723.2 A14,14 0 0 1 67.6,709.2 L67.6,479.9 A14,14 0 0 1 81.6,465.9 Z" class="ikw"/>
</g>
<line x1="494.6" y1="537.5" x2="494.6" y2="544.9" class="ik"/>
<line x1="655.0" y1="546.2" x2="655.0" y2="553.7" class="ik"/>
<line x1="577.5" y1="587.0" x2="577.5" y2="594.5" class="it"/>
<line x1="587.4" y1="587.0" x2="587.4" y2="594.5" class="it"/>
<g transform="matrix(0.3525 -0.2035 0.3525 0.2035 303.70 456.40)">
<path d="M70.6,480 L70.6,709 A11.3,11.3 0 0 0 82,720.2 L267.5,720.2 A11.3,11.3 0 0 0 278.8,709" class="ig"/>
<path d="M72.8,480 L72.8,708.5 A9.5,9.5 0 0 0 82.3,718 L267.3,718 A9.5,9.5 0 0 0 276.6,708.5" class="ig"/>
<line x1="80.8" y1="497.6" x2="80.8" y2="530.4" class="isl"/>
<line x1="268.4" y1="497.6" x2="268.4" y2="530.4" class="isl"/>
<line x1="80.8" y1="552.2" x2="80.8" y2="584.7" class="isl"/>
<line x1="268.4" y1="552.2" x2="268.4" y2="584.7" class="isl"/>
<line x1="80.8" y1="606.2" x2="80.8" y2="638.8" class="isl"/>
<line x1="268.4" y1="606.2" x2="268.4" y2="638.8" class="isl"/>
<line x1="80.8" y1="659.8" x2="80.8" y2="693.4" class="isl"/>
<line x1="268.4" y1="659.8" x2="268.4" y2="693.4" class="isl"/>
<path d="M93.2,711 L93.2,497 Q93.2,491.8 98.4,491.8 L251,491.8 Q256.2,491.8 256.2,497 L256.2,711" class="ibr"/>
<path d="M104.4,506.6 Q104.4,502.4 108.6,502.4 L240.8,502.4 Q245,502.4 245,506.6 L245,561.7 Q245,565.9 240.8,565.9 L222.6,565.9 A82.8,82.8 0 0 0 126.8,565.9 L108.6,565.9 Q104.4,565.9 104.4,561.7 Z" class="ik13"/>
<circle cx="174.7" cy="637.3" r="42.1" class="ik13"/>
<circle cx="119.3" cy="474.5" r="3.0" class="f"/>
<circle cx="229.4" cy="474.5" r="3.0" class="f"/>
<circle cx="119.3" cy="707.2" r="3.0" class="f"/>
<circle cx="229.4" cy="707.2" r="3.0" class="f"/>
<circle cx="86.7" cy="590.9" r="3.0" class="f"/>
<circle cx="262.0" cy="590.9" r="3.0" class="f"/>
<circle cx="174.5" cy="546.1" r="3.0" class="f"/>
<circle cx="171.5" cy="660.7" r="3.0" class="f"/>
</g>
<g transform="matrix(0.3525 -0.2035 0.3525 0.2035 303.70 460.63)">
<path d="M51.4,482.3 L51.4,722.9 A19,19 0 0 0 70.4,742 L278.4,742 A19.4,19.4 0 0 0 297.8,722.9 L297.8,700" class="ro"/>
<path d="M51.4,482.3 L51.4,722.9 A19,19 0 0 0 70.4,742 L278.4,742 A19.4,19.4 0 0 0 297.8,722.9 L297.8,700" class="ri"/>
<path d="M44.2,519.0 L66,519.0" class="bo"/>
<path d="M44.2,519.0 L66,519.0" class="bi"/>
<path d="M44.2,672.1 L66,672.1" class="bo"/>
<path d="M44.2,672.1 L66,672.1" class="bi"/>
<path d="M174.7,734.5 L174.7,750" class="bo"/>
<path d="M174.7,734.5 L174.7,750" class="bi"/>
</g>
<ellipse cx="491.8" cy="548.3" rx="3.1" ry="1.9" class="ikw" transform="rotate(-30 491.8 548.3)"/>
<path d="M576.7,727.6 L575.3,739.6 Q576.2,743.4 582.6,743.6 Q589.4,743.2 590.3,739.4 L588.2,728.2 Z" class="ikw"/>
<path d="M575.3,739.6 Q576.2,743.4 582.6,743.6 Q589.4,743.2 590.3,739.4" class="ib"/>
<line x1="578.9" y1="729.0" x2="577.8" y2="741.8" class="it"/>
<line x1="586.7" y1="729.3" x2="588.2" y2="741.5" class="it"/>
<path d="M576.7,727.6 Q582,730.8 588.2,728.2" class="it"/>
</g>
</svg></body></html>
